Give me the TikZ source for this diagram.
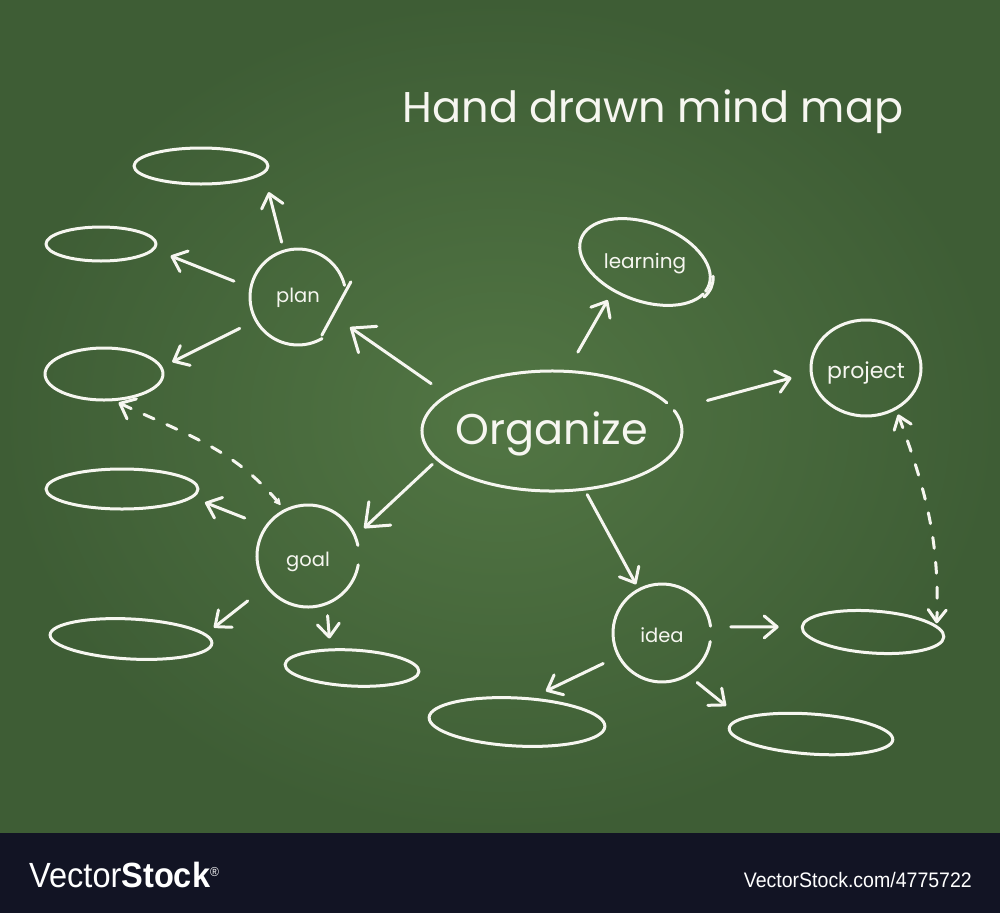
\documentclass[tikz,border=0pt]{standalone}
\usepackage{fontspec}
\setmainfont{Poppins}
\newfontfamily\wmfont[FakeStretch=0.93]{Liberation Sans}
\usetikzlibrary{shapes.geometric,arrows.meta}
\definecolor{boardin}{RGB}{82,118,68}
\definecolor{boardout}{RGB}{62,93,53}
\definecolor{chalk}{RGB}{246,246,240}
\definecolor{strip}{RGB}{18,20,36}
\begin{document}
\begin{tikzpicture}[x=1pt,y=-1pt,
  chalk/.style={draw=chalk, line width=3pt, line cap=round, line join=round},
  blob/.style={ellipse, chalk, inner sep=0pt},
  hub/.style={inner sep=0pt, text=chalk},
  arr/.style={chalk, -{Straight Barb[round,length=13pt,width=22pt]}},
  bigarr/.style={chalk, -{Straight Barb[round,length=20pt,width=32pt]}},
  dashlink/.style={chalk, dash pattern=on 11pt off 14pt},
  small/.style={font=\fontsize{19.5}{19.5}\selectfont}]
\useasboundingbox (0,0) rectangle (1000,913);
\shade[inner color=boardin, outer color=boardout] (0,0) rectangle (1000,833);
\fill[strip] (0,833) rectangle (1000,913);

% title
\node[hub, anchor=base, font=\fontsize{43}{43}\selectfont] (title) at (653,122) {Hand drawn mind map};

% labelled nodes
\node[hub, ellipse, minimum width=260pt, minimum height=120pt, font=\fontsize{43}{43}\selectfont, text height=36pt, text depth=10pt] (org) at (552,431) {\makebox[0pt]{Organize}};
\node[hub, circle, minimum size=96pt, small, text height=15pt, text depth=5pt] (plan) at (298,297) {\makebox[0pt]{plan}};
\node[hub, circle, minimum size=104pt, small, text height=25pt, text depth=5pt] (goal) at (308,556) {\makebox[0pt]{goal}};
\node[hub, circle, minimum size=100pt, small, text height=22pt, text depth=4pt] (idea) at (662,633) {\makebox[0pt]{idea}};
\node[hub, ellipse, minimum width=134pt, minimum height=86pt, font=\fontsize{20}{20}\selectfont, text height=17pt, text depth=5pt] (learn) at (645,262) {\makebox[0pt]{learning}};
\node[hub, ellipse, chalk, minimum width=110pt, minimum height=96pt, font=\fontsize{22}{22}\selectfont, text height=27pt, text depth=6pt] (project) at (866,368) {\makebox[0pt]{project}};

% hand drawn outlines
\begin{scope}[shift={(org.center)}]
  \draw[chalk] (28:130pt and 60pt) arc[start angle=28, end angle=380, x radius=130pt, y radius=60pt];
\end{scope}
\begin{scope}[shift={(plan.center)}]
  \draw[chalk] (14:48pt) arc[start angle=14, end angle=300, radius=48pt];
  \draw[chalk] (16:55pt) -- (-58:45pt);
\end{scope}
\begin{scope}[shift={(goal.center)}]
  \draw[chalk] (12:51pt) arc[start angle=12, end angle=350, radius=51pt];
\end{scope}
\begin{scope}[shift={(idea.center)}]
  \draw[chalk] (8:49pt) arc[start angle=8, end angle=350, radius=49pt];
\end{scope}
\begin{scope}[shift={(learn.center)}, rotate=-20]
  \draw[chalk] (-10:68pt and 39pt) arc[start angle=-10, end angle=345, x radius=68pt, y radius=39pt];
  \draw[chalk] (-18:71pt and 41pt) arc[start angle=-18, end angle=14, x radius=71pt, y radius=41pt];
\end{scope}

% empty ellipses
\node[blob, minimum width=134pt, minimum height=36pt] (e1) at (201,166) {};
\node[blob, minimum width=110pt, minimum height=34pt] (e2) at (101,244) {};
\node[blob, minimum width=118pt, minimum height=52pt] (e3) at (104,374) {};
\node[blob, minimum width=152pt, minimum height=40pt] (e4) at (122,489) {};
\node[blob, minimum width=162pt, minimum height=40pt, rotate=-3] (e5) at (131,639) {};
\node[blob, minimum width=134pt, minimum height=36pt, rotate=-3] (e6) at (352,668) {};
\node[blob, minimum width=142pt, minimum height=42pt, rotate=-4] (e7) at (873,632) {};
\node[blob, minimum width=176pt, minimum height=48pt, rotate=-3] (e8) at (517,722) {};
\node[blob, minimum width=164pt, minimum height=40pt, rotate=-4] (e9) at (811,734) {};

% connectors
\draw[arr, shorten <=9pt, shorten >=19pt] (plan.107) -- (e1.-7);
\draw[arr, shorten <=18pt, shorten >=17pt] (plan.169) -- (e2.-6);
\draw[arr, shorten <=18pt, shorten >=11pt] (plan.209) -- (e3.7);
\draw[bigarr, shorten <=20pt, shorten >=12pt] (org.161) -- (plan.-29);
\draw[arr, shorten <=22pt, shorten >=2pt] (org.76) -- (learn.225);
\draw[arr, shorten <=35pt, shorten >=19pt] (org.10) -- (project.185);
\draw[bigarr, shorten <=7pt, shorten >=11pt] (org.194) -- (goal.23);
\draw[arr, shorten <=6pt, shorten >=5pt] (org.-61) -- (idea.118);
\draw[arr, shorten <=22pt, shorten >=13pt] (goal.145) -- (e4.-7);
\draw[arr, shorten <=23pt, shorten >=10pt] (goal.216) -- (e5.7);
\draw[arr, shorten <=11pt, shorten >=10pt] (goal.-69) -- (e6.141);
\draw[arr, shorten <=19pt, shorten >=22pt] (idea.7) -- (e7.180);
\draw[arr, shorten <=16pt, shorten >=15pt] (idea.208) -- (e8.61);
\draw[arr, shorten <=11pt, shorten >=19pt] (idea.-58) -- (e9.171);
\draw[dashlink, {Stealth[round,length=9pt,width=9pt]}-{Straight Barb[round,length=13pt,width=22pt]}, shorten <=6pt, shorten >=4pt] (goal.117) to[out=130, in=-25] (e3.-68);
\draw[dashlink, {Straight Barb[round,length=12pt,width=18pt]}-{Straight Barb[round,length=12pt,width=18pt]}, shorten <=5pt, shorten >=2pt] (project.-54) to[out=-70, in=88] (e7.10);

% watermark strip
\node[anchor=base west, inner sep=0pt, text=white, font=\wmfont\fontsize{35}{35}\selectfont] (wm) at (29,887) {Vector\textbf{Stock}\raisebox{11pt}{\fontsize{13}{13}\selectfont\textregistered}};
\node[anchor=base east, inner sep=0pt, text=white, font=\wmfont\fontsize{21}{21}\selectfont] (wmurl) at (972,887) {VectorStock.com/4775722};
\end{tikzpicture}
\end{document}
